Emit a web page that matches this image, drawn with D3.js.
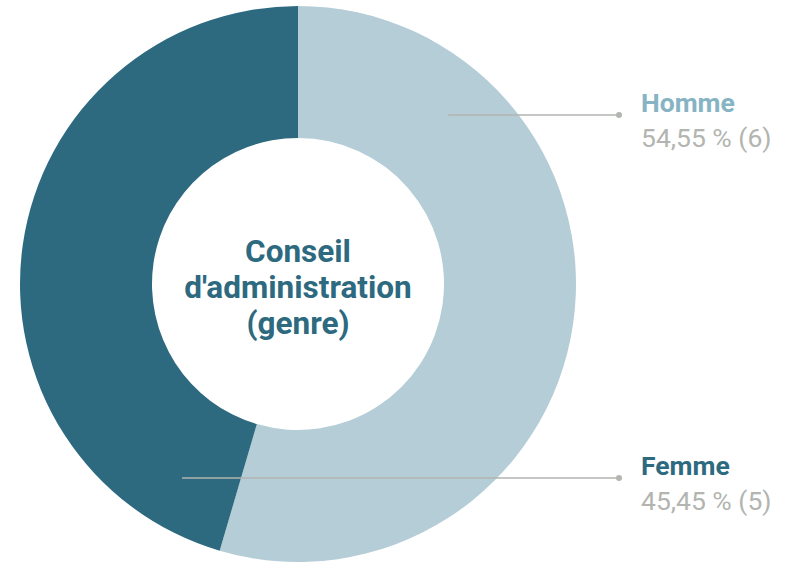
<!DOCTYPE html>
<html>
<head>
<meta charset="utf-8">
<script src="https://cdn.jsdelivr.net/npm/d3@7"></script>
<style>
  html, body { margin: 0; padding: 0; background: #fff; }
  svg { display: block; font-family: Roboto, sans-serif; }
</style>
</head>
<body>
<div id="canvas"></div>
<script>
// data
var categories = ["Homme", "Femme"];
var counts = [6, 5];
var percents = ["54,55", "45,45"];
var titleLines = ["Conseil", "d'administration", "(genre)"];

var width = 790, height = 562;
var cx = 298, cy = 284;
var outerR = 278, innerR = 146;
var lineR = 226;            // radius where leader lines start
var labelY = [115, 478];    // leader line heights
var lineEndX = 619, textX = 641;

var sliceColors = ["#b5cdd6", "#2d6a80"];
var labelColors = ["#86b4c3", "#2d6a80"];
var grey = "#b2b5b0";

var svg = d3.select("#canvas")
  .append("svg")
  .attr("width", width)
  .attr("height", height);

var g = svg.append("g")
  .attr("transform", "translate(" + cx + "," + cy + ")");

var pie = d3.pie().sort(null).value(function (d) { return d; });
var arc = d3.arc().innerRadius(innerR).outerRadius(outerR);
var arcs = pie(counts);

g.selectAll("path.slice")
  .data(arcs)
  .enter()
  .append("path")
  .attr("class", "slice")
  .attr("d", arc)
  .attr("fill", function (d, i) { return sliceColors[i]; });

// leader lines: start on the ring at the height of the label
arcs.forEach(function (d, i) {
  var y = labelY[i] - cy;
  var a = Math.acos(-y / lineR);
  // pick the angle that falls inside the slice
  if (!(a >= d.startAngle && a <= d.endAngle)) a = 2 * Math.PI - a;
  var x0 = lineR * Math.sin(a);
  g.append("line")
    .attr("x1", x0).attr("y1", y)
    .attr("x2", lineEndX - cx).attr("y2", y)
    .attr("stroke", grey)
    .attr("stroke-width", 1.5);
  g.append("circle")
    .attr("cx", lineEndX - cx).attr("cy", y)
    .attr("r", 3)
    .attr("fill", grey);

  svg.append("text")
    .attr("x", textX).attr("y", labelY[i] - 3)
    .attr("font-size", 26.5)
    .attr("font-weight", "bold")
    .attr("fill", labelColors[i])
    .text(categories[i]);
  svg.append("text")
    .attr("x", textX).attr("y", labelY[i] + 32)
    .attr("font-size", 26.5)
    .attr("fill", grey)
    .text(percents[i] + " % (" + counts[i] + ")");
});

// center title
g.append("text")
  .attr("text-anchor", "middle")
  .attr("font-size", 31.5)
  .attr("font-weight", "bold")
  .attr("fill", "#2d6a80")
  .selectAll("tspan")
  .data(titleLines)
  .enter()
  .append("tspan")
  .attr("x", 0)
  .attr("y", function (d, i) { return -22 + i * 36; })
  .text(function (d) { return d; });
</script>
</body>
</html>
